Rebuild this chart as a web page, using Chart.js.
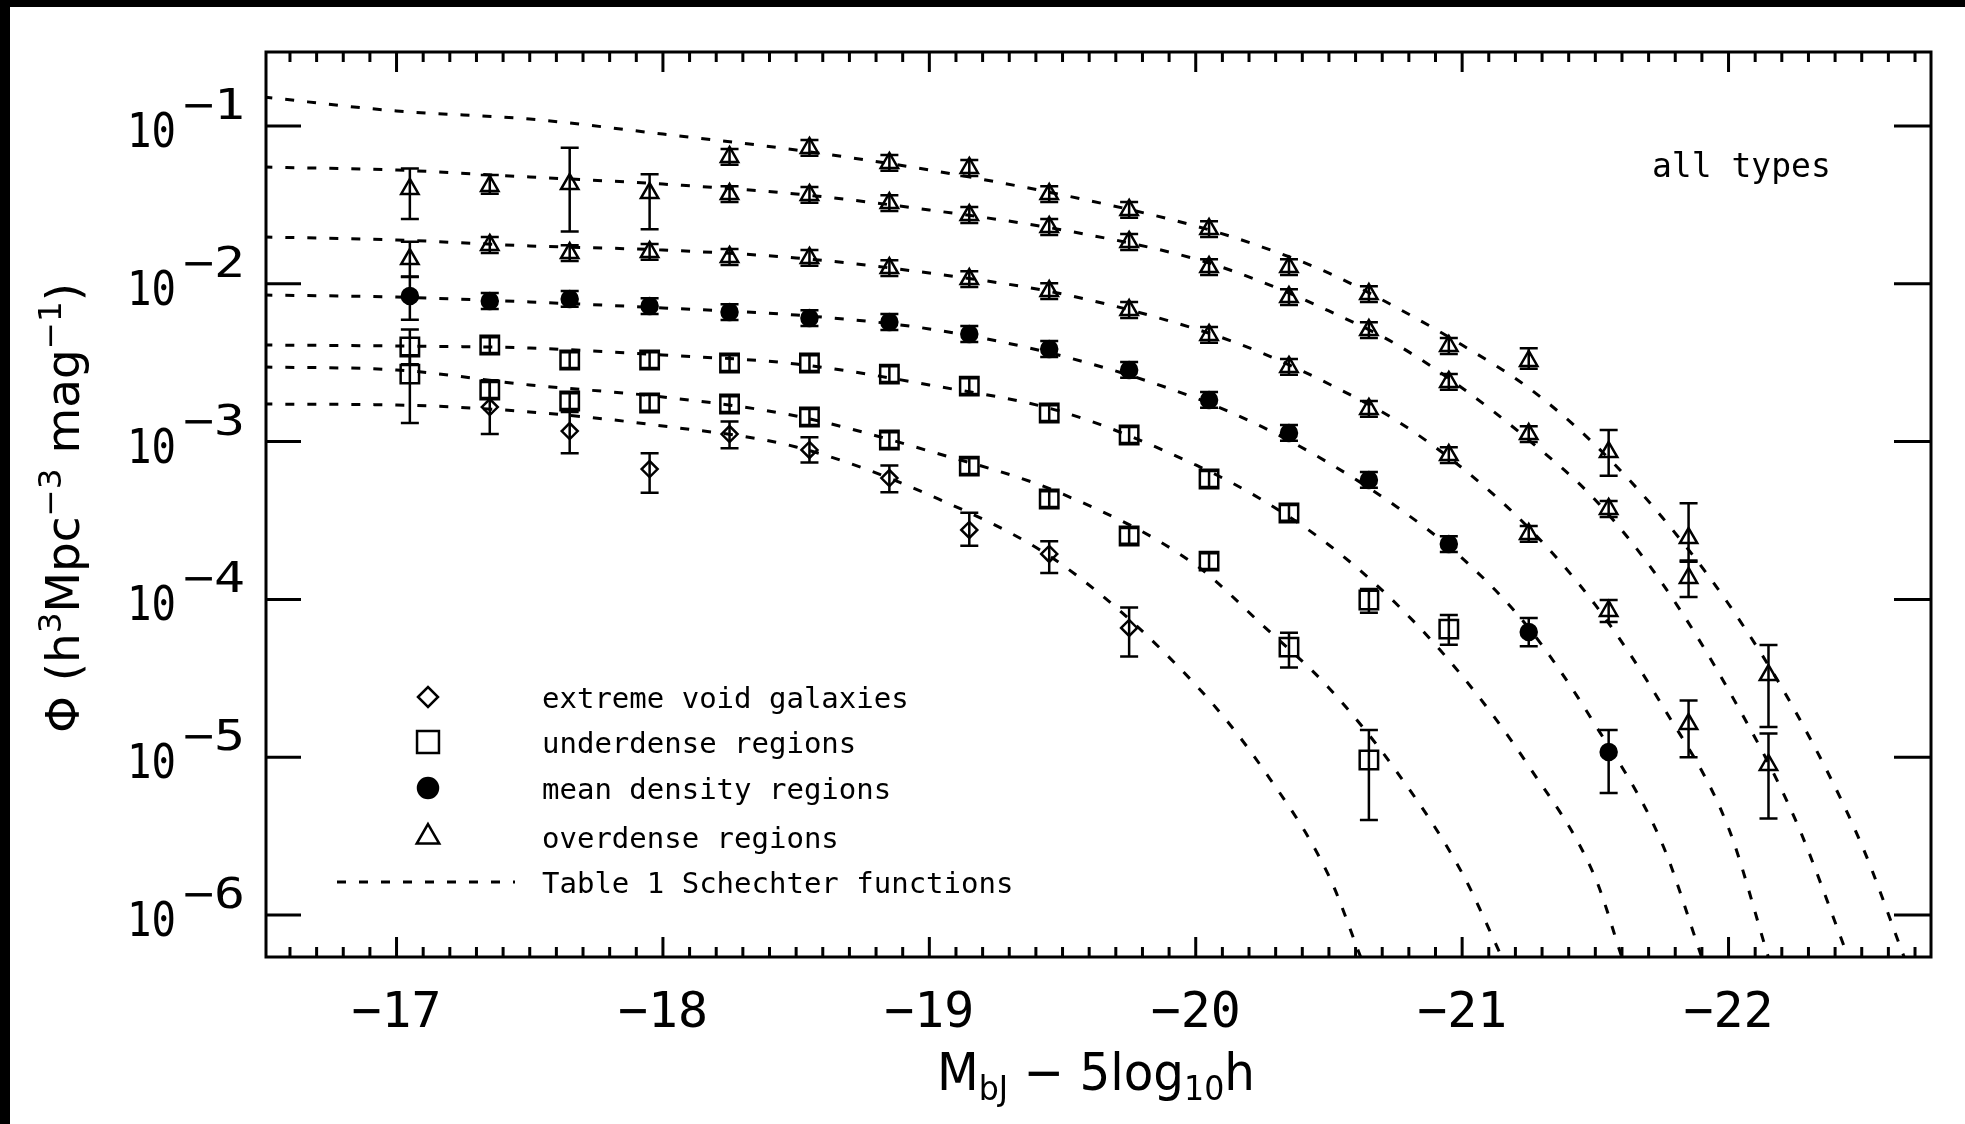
<!DOCTYPE html>
<html>
<head>
<meta charset="utf-8">
<title>Luminosity function by environment - all types</title>
<script src="https://cdn.jsdelivr.net/npm/chart.js@4.4.1/dist/chart.umd.min.js"></script>
<style>
  html, body { margin: 0; padding: 0; background: #fff; overflow: hidden; }
  canvas { display: block; }
</style>
</head>
<body>
<canvas id="lf" width="1965" height="1124"></canvas>
<script>
// magnitude bin centres (M_bJ - 5 log10 h)
const mags = [-17.05, -17.35, -17.65, -17.95, -18.25, -18.55, -18.85, -19.15, -19.45,
              -19.75, -20.05, -20.35, -20.65, -20.95, -21.25, -21.55, -21.85, -22.15];

// measured log10 phi per density bin, with upper / lower errors in dex
// densest overdense bin, starts at bin 4
const od1Log = [-1.196, -1.139, -1.234, -1.266, -1.431, -1.532, -1.653, -1.894, -2.065, -2.394, -2.489, -3.066, -3.611, -4.479];
const od1Up  = [0.05, 0.05, 0.05, 0.05, 0.05, 0.05, 0.05, 0.05, 0.05, 0.05, 0.08, 0.14, 0.22, 0.19];
const od1Dn  = [0.05, 0.05, 0.05, 0.05, 0.05, 0.05, 0.05, 0.05, 0.05, 0.05, 0.05, 0.15, 0.15, 0.33];

const od2Log = [-1.399, -1.380, -1.368, -1.425, -1.431, -1.437, -1.488, -1.564, -1.640, -1.735, -1.894, -2.084, -2.293, -2.622, -2.952, -3.427, -3.864, -5.049];
const od2Up  = [0.13, 0.07, 0.23, 0.12, 0.05, 0.05, 0.05, 0.05, 0.05, 0.05, 0.05, 0.05, 0.05, 0.05, 0.05, 0.05, 0.11, 0.20];
const od2Dn  = [0.19, 0.05, 0.30, 0.23, 0.05, 0.05, 0.05, 0.05, 0.05, 0.05, 0.05, 0.05, 0.05, 0.05, 0.05, 0.05, 0.12, 0.34];

const od3Log = [-1.843, -1.754, -1.805, -1.798, -1.830, -1.836, -1.900, -1.970, -2.046, -2.166, -2.324, -2.527, -2.793, -3.085, -3.585, -4.073, -4.790];
const od3Up  = [0.11, 0.05, 0.05, 0.05, 0.05, 0.05, 0.05, 0.05, 0.05, 0.05, 0.05, 0.05, 0.05, 0.05, 0.05, 0.07, 0.15];
const od3Dn  = [0.11, 0.05, 0.05, 0.05, 0.05, 0.05, 0.05, 0.05, 0.05, 0.05, 0.05, 0.05, 0.05, 0.05, 0.05, 0.07, 0.21];

const meanLog = [-2.077, -2.109, -2.096, -2.141, -2.179, -2.217, -2.242, -2.318, -2.413, -2.546, -2.736, -2.945, -3.243, -3.649, -4.207, -4.967];
const meanUp  = [0.12, 0.05, 0.05, 0.05, 0.05, 0.05, 0.05, 0.05, 0.05, 0.05, 0.05, 0.05, 0.05, 0.05, 0.09, 0.14];
const meanDn  = [0.15, 0.05, 0.05, 0.05, 0.05, 0.05, 0.05, 0.05, 0.05, 0.05, 0.05, 0.05, 0.05, 0.05, 0.09, 0.26];

const ud1Log = [-2.400, -2.388, -2.483, -2.483, -2.502, -2.502, -2.572, -2.648, -2.819, -2.958, -3.237, -3.452, -4.004, -4.188];
const ud1Up  = [0.11, 0.05, 0.05, 0.05, 0.05, 0.05, 0.05, 0.05, 0.05, 0.05, 0.05, 0.05, 0.07, 0.09];
const ud1Dn  = [0.11, 0.05, 0.05, 0.05, 0.05, 0.05, 0.05, 0.05, 0.05, 0.05, 0.05, 0.05, 0.08, 0.10];

const ud2Log = [-2.572, -2.673, -2.743, -2.755, -2.762, -2.844, -2.990, -3.155, -3.364, -3.598, -3.757, -4.302, -5.018];
const ud2Up  = [0.12, 0.05, 0.05, 0.05, 0.05, 0.05, 0.05, 0.05, 0.05, 0.05, 0.05, 0.09, 0.19];
const ud2Dn  = [0.31, 0.05, 0.05, 0.05, 0.05, 0.05, 0.05, 0.05, 0.05, 0.05, 0.05, 0.13, 0.38];

// extreme voids, starts at bin 1
const voidLog = [-2.781, -2.933, -3.174, -2.952, -3.053, -3.231, -3.560, -3.712, -4.181];
const voidUp  = [0.17, 0.12, 0.10, 0.08, 0.08, 0.08, 0.11, 0.08, 0.13];
const voidDn  = [0.17, 0.14, 0.15, 0.09, 0.08, 0.09, 0.10, 0.12, 0.18];

// Table 1 Schechter fits, log10 phi sampled on this grid, each ending where it leaves the plot
const fitMag = [-16.5, -17.0, -17.5, -18.0, -18.5, -19.0, -19.5, -20.0, -20.25, -20.5,
                -20.75, -21.0, -21.25, -21.5, -21.75, -22.0, -22.25, -22.5];
const fitOd1  = [-0.816, -0.905, -0.956, -1.051, -1.152, -1.279, -1.437, -1.634, -1.767, -1.932, -2.147, -2.388, -2.660, -3.022, -3.478, -4.029, -4.707, -5.556];
const fitOd2  = [-1.260, -1.279, -1.323, -1.368, -1.431, -1.532, -1.659, -1.843, -1.989, -2.172, -2.381, -2.660, -2.990, -3.370, -3.896, -4.574, -5.392];
const fitOd3  = [-1.703, -1.722, -1.760, -1.786, -1.836, -1.932, -2.065, -2.286, -2.439, -2.635, -2.863, -3.167, -3.547, -4.035, -4.669, -5.449];
const fitMean = [-2.071, -2.084, -2.115, -2.153, -2.198, -2.286, -2.458, -2.724, -2.907, -3.136, -3.408, -3.738, -4.181, -4.796, -5.544];
const fitUd1  = [-2.388, -2.394, -2.407, -2.451, -2.508, -2.641, -2.812, -3.148, -3.370, -3.655, -4.023, -4.485, -5.056, -5.765];
const fitUd2  = [-2.527, -2.546, -2.641, -2.717, -2.838, -3.060, -3.332, -3.782, -4.162, -4.561, -5.081, -5.734];
const fitVoid = [-2.762, -2.768, -2.812, -2.901, -3.034, -3.338, -3.782, -4.542, -5.068, -5.753];
const fitEndMag = [-22.66, -22.45, -22.15, -21.90, -21.60, -21.15, -20.62];
const fitEndLog = -6.27;

// axis ticks
const xTickMags = [-17, -18, -19, -20, -21, -22];
const yTickExps = [-1, -2, -3, -4, -5, -6];

const SANS = '"DejaVu Sans", "Liberation Sans", sans-serif';
const MONO = '"DejaVu Sans Mono", "Liberation Mono", monospace';
const INK = '#000';

const pointSeries = [
  { log: od1Log,  up: od1Up,  dn: od1Dn,  first: 4, style: 'triangle', r: 10,  filled: false },
  { log: od2Log,  up: od2Up,  dn: od2Dn,  first: 0, style: 'triangle', r: 10,  filled: false },
  { log: od3Log,  up: od3Up,  dn: od3Dn,  first: 0, style: 'triangle', r: 10,  filled: false },
  { log: meanLog, up: meanUp, dn: meanDn, first: 0, style: 'circle',   r: 8,   filled: true  },
  { log: ud1Log,  up: ud1Up,  dn: ud1Dn,  first: 0, style: 'rect',     r: 13,  filled: false },
  { log: ud2Log,  up: ud2Up,  dn: ud2Dn,  first: 0, style: 'rect',     r: 13,  filled: false },
  { log: voidLog, up: voidUp, dn: voidDn, first: 1, style: 'rectRot',  r: 8,   filled: false }
];
const fits = [fitOd1, fitOd2, fitOd3, fitMean, fitUd1, fitUd2, fitVoid];

const DASH = [9, 13];

const curveSets = fits.map((arr, k) => ({
  data: arr.map((v, i) => ({ x: fitMag[i], y: Math.pow(10, v) }))
           .concat([{ x: fitEndMag[k], y: Math.pow(10, fitEndLog) }]),
  showLine: true,
  pointRadius: 0,
  borderColor: INK,
  borderWidth: 3,
  borderDash: DASH,
  cubicInterpolationMode: 'monotone',
  fill: false,
  order: 2
}));

const pointSets = pointSeries.map(s => ({
  data: s.log.map((v, i) => ({ x: mags[s.first + i], y: Math.pow(10, v) })),
  showLine: false,
  pointStyle: s.style,
  pointRadius: s.r,
  pointBorderWidth: 2.5,
  pointBorderColor: INK,
  pointBackgroundColor: s.filled ? INK : 'rgba(0,0,0,0)',
  order: 1
}));

// text made of pieces of different size / baseline shift, squeezed to a given width
function drawRich(ctx, parts, x, y, opt) {
  opt = opt || {};
  ctx.save();
  ctx.fillStyle = INK;
  ctx.textBaseline = 'alphabetic';
  ctx.textAlign = 'left';
  const fam = opt.family || SANS;
  let total = 0;
  const widths = parts.map(p => {
    ctx.font = p.size + 'px ' + fam;
    const w = ctx.measureText(p.text).width;
    total += w;
    return w;
  });
  const sx = opt.width ? opt.width / total : 1;
  ctx.translate(x, y);
  if (opt.rotate) ctx.rotate(opt.rotate);
  ctx.scale(sx, 1);
  let cx = opt.align === 'right' ? -total : (opt.align === 'center' ? -total / 2 : 0);
  parts.forEach((p, i) => {
    ctx.font = p.size + 'px ' + fam;
    ctx.fillText(p.text, cx, p.dy || 0);
    cx += widths[i];
  });
  ctx.restore();
}

const errorBars = {
  id: 'errorBars',
  afterDatasetsDraw(chart) {
    const { ctx, scales: { x, y } } = chart;
    ctx.save();
    ctx.strokeStyle = INK;
    ctx.lineWidth = 2.5;
    pointSeries.forEach(s => {
      s.log.forEach((v, i) => {
        const px = x.getPixelForValue(mags[s.first + i]);
        const yHi = y.getPixelForValue(Math.pow(10, v + s.up[i]));
        const yLo = y.getPixelForValue(Math.pow(10, v - s.dn[i]));
        ctx.beginPath();
        ctx.moveTo(px, yHi); ctx.lineTo(px, yLo);
        ctx.moveTo(px - 9, yHi); ctx.lineTo(px + 9, yHi);
        ctx.moveTo(px - 9, yLo); ctx.lineTo(px + 9, yLo);
        ctx.stroke();
      });
    });
    ctx.restore();
  }
};

const frame = {
  id: 'frame',
  beforeDraw(chart) {
    const ctx = chart.ctx;
    ctx.save();
    ctx.fillStyle = '#fff';
    ctx.fillRect(0, 0, chart.width, chart.height);
    ctx.fillStyle = '#000';
    ctx.fillRect(0, 0, chart.width, 7);
    ctx.fillRect(0, 0, 10, chart.height);
    ctx.restore();
  },
  afterDraw(chart) {
    const { ctx, chartArea: a, scales: { x, y } } = chart;
    ctx.save();
    ctx.strokeStyle = INK;
    ctx.lineWidth = 3;
    ctx.strokeRect(a.left, a.top, a.right - a.left, a.bottom - a.top);

    // x ticks every 0.1 mag, long ones on whole magnitudes, top and bottom
    ctx.beginPath();
    for (let i = 166; i <= 227; i++) {
      const px = x.getPixelForValue(-i / 10);
      const len = i % 10 === 0 ? 20 : 10;
      ctx.moveTo(px, a.top); ctx.lineTo(px, a.top + len);
      ctx.moveTo(px, a.bottom); ctx.lineTo(px, a.bottom - len);
    }
    // y ticks on each decade, both sides
    yTickExps.forEach(e => {
      const py = y.getPixelForValue(Math.pow(10, e));
      ctx.moveTo(a.left, py); ctx.lineTo(a.left + 35, py);
      ctx.moveTo(a.right, py); ctx.lineTo(a.right - 37, py);
    });
    ctx.stroke();

    // tick labels
    xTickMags.forEach(m => {
      drawRich(ctx, [{ text: '\u2212' + Math.abs(m), size: 50 }],
        x.getPixelForValue(m), 1027, { family: MONO, align: 'center', width: 90 });
    });
    yTickExps.forEach(e => {
      const py = y.getPixelForValue(Math.pow(10, e));
      drawRich(ctx, [{ text: '10', size: 48 }], 176, py + 21,
        { family: MONO, align: 'right', width: 49 });
      drawRich(ctx, [{ text: '\u2212' + Math.abs(e), size: 42 }], 183, py - 7,
        { family: MONO, width: 62 });
    });

    // axis titles
    drawRich(ctx, [
      { text: 'M', size: 52 },
      { text: 'bJ', size: 34, dy: 10 },
      { text: ' \u2212 5log', size: 52 },
      { text: '10', size: 34, dy: 10 },
      { text: 'h', size: 52 }
    ], 937, 1090, { width: 318 });
    drawRich(ctx, [
      { text: '\u03A6 (h', size: 46 },
      { text: '3', size: 32, dy: -18 },
      { text: 'Mpc', size: 46 },
      { text: '\u22123', size: 32, dy: -18 },
      { text: ' mag', size: 46 },
      { text: '\u22121', size: 32, dy: -18 },
      { text: ')', size: 46 }
    ], 79, 733, { rotate: -Math.PI / 2, width: 450 });

    drawRich(ctx, [{ text: 'all types', size: 33 }], 1652, 177, { family: MONO });

    // key
    const H = Chart.helpers;
    const keyX = 428;
    const keyRows = [
      { y: 697, style: 'rectRot',  r: 10,   filled: false, label: 'extreme void galaxies' },
      { y: 742, style: 'rect',     r: 15.5, filled: false, label: 'underdense regions' },
      { y: 788, style: 'circle',   r: 10,   filled: true,  label: 'mean density regions' },
      { y: 837, style: 'triangle', r: 13,   filled: false, label: 'overdense regions' }
    ];
    keyRows.forEach(k => {
      ctx.fillStyle = k.filled ? INK : '#fff';
      ctx.strokeStyle = INK;
      ctx.lineWidth = 2.5;
      H.drawPoint(ctx, { pointStyle: k.style, radius: k.r, borderWidth: 2.5, rotation: 0 }, keyX, k.y);
      drawRich(ctx, [{ text: k.label, size: 29 }], 542, k.y + 11, { family: MONO });
    });
    ctx.strokeStyle = INK;
    ctx.lineWidth = 3;
    ctx.setLineDash(DASH);
    ctx.beginPath();
    ctx.moveTo(337, 882); ctx.lineTo(515, 882);
    ctx.stroke();
    ctx.setLineDash([]);
    drawRich(ctx, [{ text: 'Table 1 Schechter functions', size: 29 }], 542, 893, { family: MONO });

    ctx.restore();
  }
};

new Chart(document.getElementById('lf'), {
  type: 'scatter',
  data: { datasets: curveSets.concat(pointSets) },
  options: {
    responsive: false,
    animation: false,
    events: [],
    layout: { padding: { left: 266, top: 52, right: 34, bottom: 167 } },
    plugins: { legend: { display: false }, tooltip: { enabled: false } },
    scales: {
      x: { type: 'linear', reverse: true, min: -22.76, max: -16.51, display: false },
      y: { type: 'logarithmic', min: Math.pow(10, -6.266), max: Math.pow(10, -0.531), display: false }
    }
  },
  plugins: [frame, errorBars]
});
</script>
</body>
</html>
